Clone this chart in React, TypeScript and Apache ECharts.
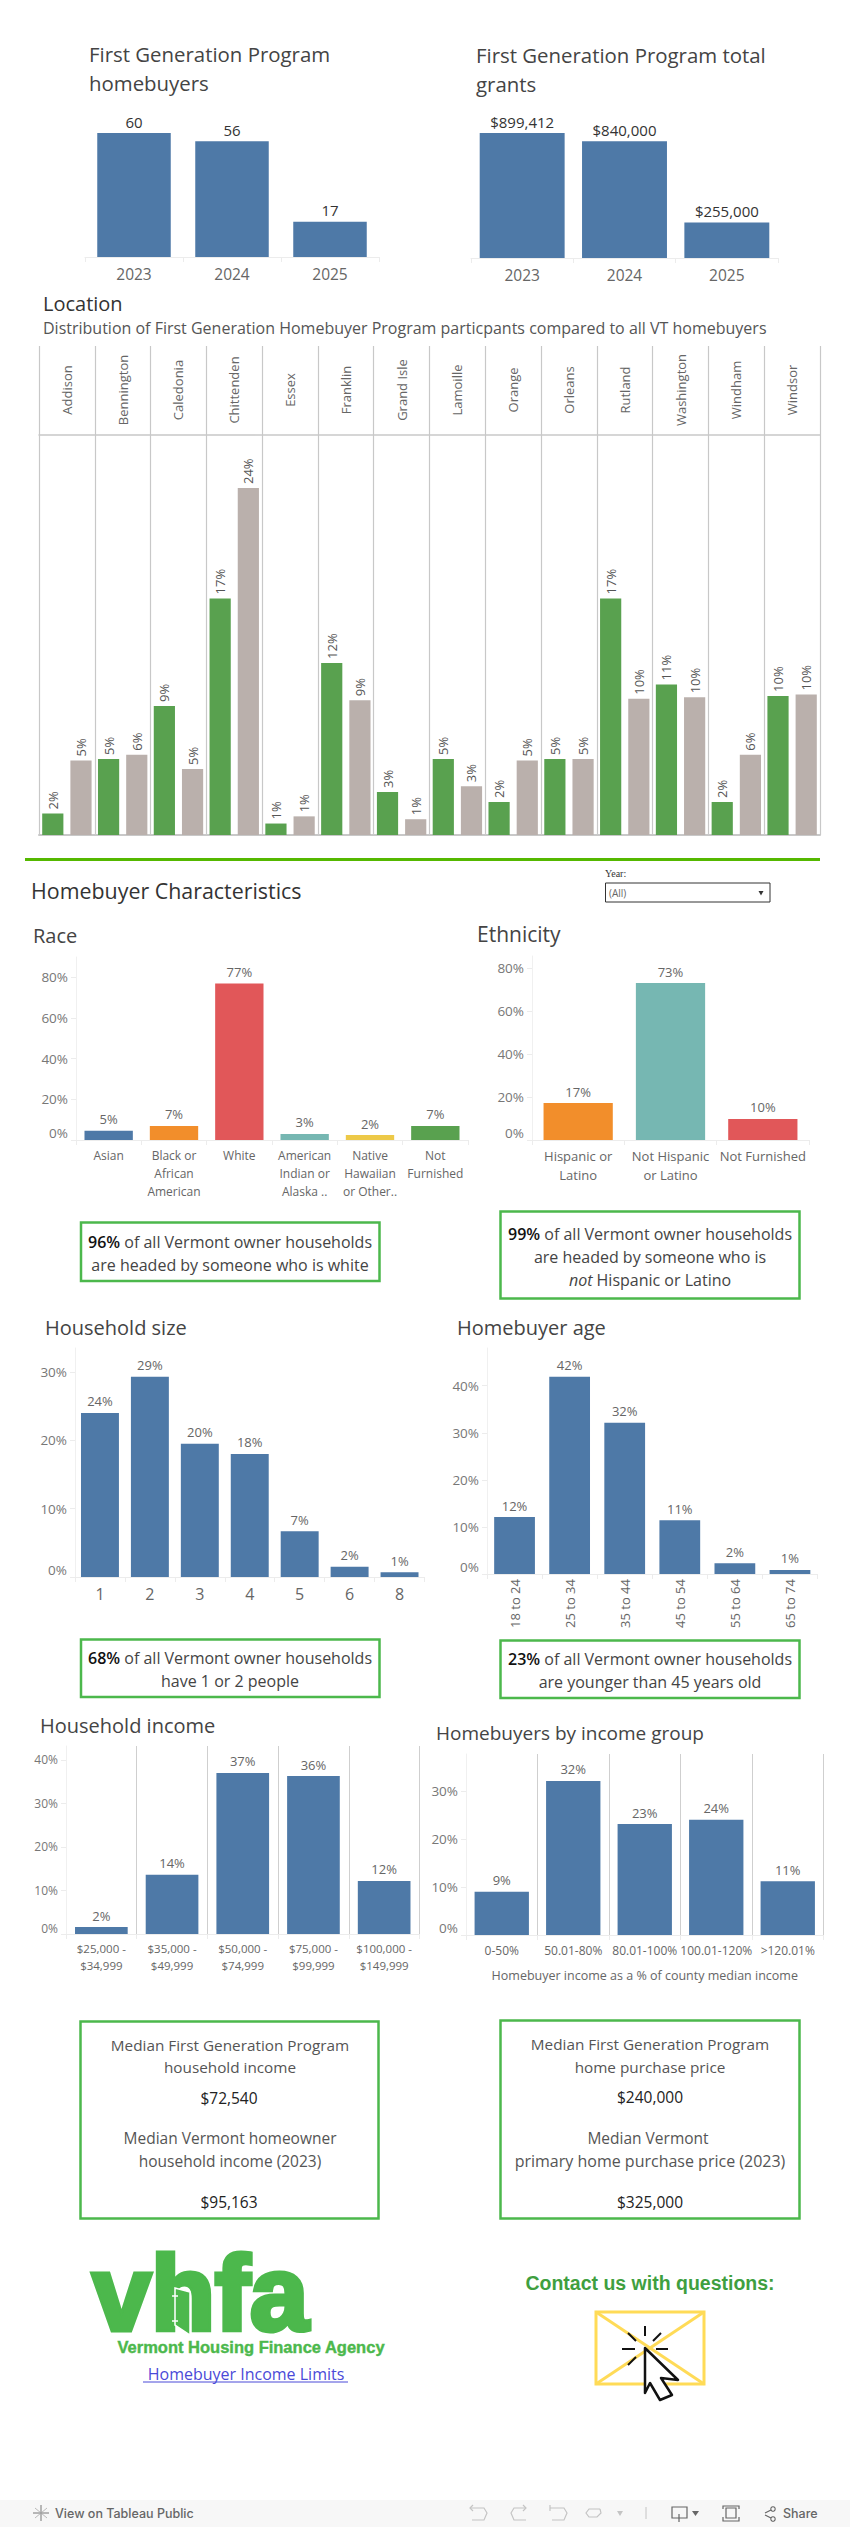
import React, { useEffect, useRef } from "react";
import * as echarts from "echarts";

const years = ["2023", "2024", "2025"];
const homebuyers = [60, 56, 17];
const grants = [899412, 840000, 255000];

const counties = ["Addison", "Bennington", "Caledonia", "Chittenden", "Essex", "Franklin", "Grand Isle", "Lamoille", "Orange", "Orleans", "Rutland", "Washington", "Windham", "Windsor"];
const programShare = [1.5, 5.3, 9.0, 16.5, 0.8, 12.0, 3.0, 5.3, 2.3, 5.3, 16.5, 10.5, 2.3, 9.7];
const allVtShare = [5.2, 5.6, 4.6, 24.2, 1.3, 9.4, 1.1, 3.4, 5.2, 5.3, 9.5, 9.6, 5.6, 9.8];

const raceCats = ["Asian", "Black or\nAfrican\nAmerican", "White", "American\nIndian or\nAlaska ..", "Native\nHawaiian\nor Other..", "Not\nFurnished"];
const raceVals = [4.5, 6.9, 77, 3, 2.4, 6.9];
const raceColors = ["#4e79a7", "#f28e2b", "#e15759", "#76b7b2", "#edc948", "#59a14f"];

const ethCats = ["Hispanic or\nLatino", "Not Hispanic\nor Latino", "Not Furnished"];
const ethVals = [17.2, 73, 9.8];
const ethColors = ["#f28e2b", "#76b7b2", "#e15759"];

const sizeCats = ["1", "2", "3", "4", "5", "6", "8"];
const sizeVals = [24, 29.3, 19.5, 18, 6.7, 1.5, 0.7];

const ageCats = ["18 to 24", "25 to 34", "35 to 44", "45 to 54", "55 to 64", "65 to 74"];
const ageVals = [12.1, 41.9, 32.1, 11.4, 2.3, 0.85];

const incomeCats = ["$25,000 -\n$34,999", "$35,000 -\n$49,999", "$50,000 -\n$74,999", "$75,000 -\n$99,999", "$100,000 -\n$149,999"];
const incomeVals = [1.6, 13.6, 37, 36.3, 12.2];

const groupCats = ["0-50%", "50.01-80%", "80.01-100%", "100.01-120%", ">120.01%"];
const groupVals = [9, 32.1, 23.1, 24, 11.2];

const FONT = "'Open Sans', sans-serif";
const BLUE = "#4e79a7";
const BOX = "#4cb84c";
const pct = (p: any) => Math.round(p.value) + "%";

function txt(x: number, y: number, text: string, size: number, fill: string, extra: any = {}) {
  const { align = "left", weight = 400, family = FONT, ...rest } = extra;
  return {
    type: "text", x, y, silent: true,
    style: { text, fill, fontSize: size, fontFamily: family, fontWeight: weight, align, verticalAlign: "middle", ...rest },
  };
}
const rect = (x: number, y: number, w: number, h: number, style: any) => ({ type: "rect", silent: true, shape: { x, y, width: w, height: h }, style });
const line = (x1: number, y1: number, x2: number, y2: number, stroke: string, lineWidth = 1.5) => ({ type: "line", silent: true, shape: { x1, y1, x2, y2 }, style: { stroke, lineWidth } });
const poly = (points: number[][], style: any) => ({ type: "polygon", silent: true, shape: { points }, style });
const pline = (points: number[][], stroke: string, lineWidth = 1.2) => ({ type: "polyline", silent: true, shape: { points }, style: { stroke, lineWidth, fill: "none" } });
const box = (x: number, y: number, w: number, h: number) => rect(x, y, w, h, { fill: "none", stroke: BOX, lineWidth: 2.5 });
const bold = {
  b: { fontWeight: 600, fill: "#111", fontSize: 16, fontFamily: FONT },
  i: { fontStyle: "italic", fontSize: 16, fontFamily: FONT, fill: "#444" },
};

const grids: any[] = [];
const xAxes: any[] = [];
const yAxes: any[] = [];
const series: any[] = [];

function panel(o: any) {
  const g = grids.length;
  grids.push({ left: o.left, top: o.top, width: o.right - o.left, height: o.bottom - o.top, show: false });
  xAxes.push({
    gridIndex: g, type: "category", data: o.cats,
    axisLine: { show: true, lineStyle: { color: "#ececec" } },
    axisTick: { show: true, interval: 0, length: 5, lineStyle: { color: "#ececec" } },
    axisLabel: { interval: 0, fontFamily: FONT, color: "#666", fontSize: o.catSize ?? 12, lineHeight: o.catLine ?? 18, margin: o.catMargin ?? 6, rotate: o.catRotate ?? 0 },
    splitLine: o.dividers ? { show: true, interval: 0, showMinLine: false, lineStyle: { color: "#cfcfcf" } } : { show: false },
    name: o.axisName, nameLocation: "middle", nameGap: o.nameGap,
    nameTextStyle: { fontFamily: FONT, color: "#666", fontSize: 12.5 },
  });
  yAxes.push({
    gridIndex: g, type: "value", min: 0, max: o.max, interval: o.interval,
    show: o.showY !== false,
    axisLine: { show: true, lineStyle: { color: "#f0f0f0" } },
    axisTick: { show: true, length: 5, lineStyle: { color: "#ececec" } },
    splitLine: { show: false },
    axisLabel: {
      fontFamily: FONT, color: "#777", fontSize: o.ySize ?? 13.5, margin: 8, showMaxLabel: false,
      verticalAlignMinLabel: "bottom", formatter: (v: number) => v + "%",
    },
  });
  series.push({
    type: "bar", xAxisIndex: g, yAxisIndex: g, barWidth: o.barWidth, silent: true,
    data: o.vals.map((v: number, i: number) => ({ value: v, itemStyle: { color: o.colors ? o.colors[i] : BLUE } })),
    label: {
      show: true, position: "top", distance: o.labelDist ?? 5, fontFamily: FONT, fontSize: o.labelSize ?? 13,
      color: o.labelColor ?? "#666", formatter: o.fmt ?? pct,
    },
  });
}

// First Generation Program totals
panel({ left: 85, right: 379, top: 133, bottom: 257, cats: years, vals: homebuyers, max: 60, showY: false, barWidth: "75%", catSize: 15.5, catMargin: 8, labelSize: 15, labelColor: "#333", labelDist: 4, fmt: (p: any) => String(p.value) });
panel({ left: 471, right: 778, top: 133, bottom: 258, cats: years, vals: grants, max: 899412, showY: false, barWidth: "83%", catSize: 15.5, catMargin: 8, labelSize: 15, labelColor: "#333", labelDist: 4, fmt: (p: any) => "$" + p.value.toLocaleString("en-US") });

// Location: header strip with county names
{
  const g = grids.length;
  grids.push({ left: 39, width: 781, top: 346, height: 89, show: false });
  xAxes.push({
    gridIndex: g, type: "category", data: counties,
    axisLine: { show: true, lineStyle: { color: "#c8c8c8", width: 1.5 } }, axisTick: { show: false },
    axisLabel: { interval: 0, inside: true, rotate: 90, align: "center", verticalAlign: "middle", margin: 45, fontFamily: FONT, fontSize: 13, color: "#666" },
    splitLine: { show: true, interval: 0, lineStyle: { color: "#c8c8c8", width: 1.2 } },
  });
  yAxes.push({ gridIndex: g, type: "value", min: 0, max: 1, show: false });

  // Location: paired bars
  const p = grids.length;
  grids.push({ left: 39, width: 781, top: 435, height: 400, show: false });
  xAxes.push({
    gridIndex: p, type: "category", data: counties,
    axisLine: { show: true, lineStyle: { color: "#c8c8c8", width: 2 } }, axisTick: { show: false }, axisLabel: { show: false },
    splitLine: { show: true, interval: 0, lineStyle: { color: "#c8c8c8", width: 1.2 } },
  });
  yAxes.push({ gridIndex: p, type: "value", min: 0, max: 27.9, show: false });
  const locLabel = {
    show: true, position: "top", distance: 4, rotate: 90, align: "left", verticalAlign: "middle",
    fontFamily: FONT, fontSize: 13, color: "#555", formatter: pct,
  };
  series.push({ type: "bar", name: "First Generation", xAxisIndex: p, yAxisIndex: p, data: programShare, barWidth: "38%", barGap: "33%", silent: true, itemStyle: { color: "#59a14f" }, label: locLabel });
  series.push({ type: "bar", name: "All VT", xAxisIndex: p, yAxisIndex: p, data: allVtShare, barWidth: "38%", barGap: "33%", silent: true, itemStyle: { color: "#bab0ac" }, label: locLabel });
}

// Characteristics
panel({ left: 76, right: 468, top: 957, bottom: 1140, cats: raceCats, vals: raceVals, colors: raceColors, max: 90, interval: 20, barWidth: "74%", catSize: 12 });
panel({ left: 532, right: 809, top: 956, bottom: 1140, cats: ethCats, vals: ethVals, colors: ethColors, max: 85.6, interval: 20, barWidth: "75%", catSize: 13, catLine: 19 });
panel({ left: 75, right: 424.5, top: 1348, bottom: 1577, cats: sizeCats, vals: sizeVals, max: 33.5, interval: 10, barWidth: "76%", catSize: 16, catMargin: 8 });
panel({ left: 487, right: 817.5, top: 1348, bottom: 1574, cats: ageCats, vals: ageVals, max: 48, interval: 10, barWidth: "74%", catSize: 13, catRotate: 90, catMargin: 5 });
panel({ left: 66, right: 419.5, top: 1746, bottom: 1934, cats: incomeCats, vals: incomeVals, max: 43.2, interval: 10, barWidth: "74.5%", dividers: true, catSize: 11.5, catLine: 17, ySize: 12, catMargin: 6 });
panel({ left: 466, right: 823.5, top: 1754, bottom: 1935, cats: groupCats, vals: groupVals, max: 37.7, interval: 10, barWidth: "76%", dividers: true, catSize: 12, axisName: "Homebuyer income as a % of county median income", nameGap: 34 });

const TITLE = "#444";
const BODY = "#444";
const LOGO = "#4cb84c";
const graphics: any[] = [
  txt(89, 54, "First Generation Program", 20.4, TITLE),
  txt(89, 83, "homebuyers", 20.4, TITLE),
  txt(476, 55, "First Generation Program total", 20.4, TITLE),
  txt(476, 84, "grants", 20.4, TITLE),
  txt(43, 303, "Location", 20, "#333", { weight: 500 }),
  txt(43, 328, "Distribution of First Generation Homebuyer Program particpants compared to all VT homebuyers", 16, "#555"),
  rect(25, 858, 795, 3, { fill: "#55b800" }),
  txt(605, 873, "Year:", 10, "#333", { family: "'Liberation Serif', serif" }),
  rect(605.5, 883, 164.5, 19, { fill: "#fff", stroke: "#333", lineWidth: 1 }),
  txt(609, 893, "(All)", 10, "#666"),
  poly([[758.5, 891], [763.5, 891], [761, 895.5]], { fill: "#333" }),
  txt(31, 890, "Homebuyer Characteristics", 21.4, "#333"),
  txt(33, 935, "Race", 20, TITLE),
  txt(477, 934, "Ethnicity", 21, TITLE),
  box(81, 1222.5, 298.5, 58.5),
  txt(230, 1242, "{b|96%} of all Vermont owner households", 16, BODY, { align: "center", rich: bold }),
  txt(230, 1265, "are headed by someone who is white", 16, BODY, { align: "center" }),
  box(500.5, 1211.5, 299, 87),
  txt(650, 1234, "{b|99%} of all Vermont owner households", 16, BODY, { align: "center", rich: bold }),
  txt(650, 1257, "are headed by someone who is", 16, BODY, { align: "center" }),
  txt(650, 1280, "{i|not} Hispanic or Latino", 16, BODY, { align: "center", rich: bold }),
  txt(45, 1327, "Household size", 20, TITLE),
  txt(457, 1327, "Homebuyer age", 20, TITLE),
  box(81, 1639.5, 298.5, 57.5),
  txt(230, 1658, "{b|68%} of all Vermont owner households", 16, BODY, { align: "center", rich: bold }),
  txt(230, 1681, "have 1 or 2 people", 16, BODY, { align: "center" }),
  box(500.5, 1640.5, 299, 57.5),
  txt(650, 1659, "{b|23%} of all Vermont owner households", 16, BODY, { align: "center", rich: bold }),
  txt(650, 1682, "are younger than 45 years old", 16, BODY, { align: "center" }),
  txt(40, 1725, "Household income", 20, TITLE),
  txt(436, 1733, "Homebuyers by income group", 19, TITLE),
  box(80.5, 2021.5, 298, 197),
  txt(230, 2045, "Median First Generation Program", 15.3, "#555", { align: "center" }),
  txt(230, 2067, "household income", 15.3, "#555", { align: "center" }),
  txt(229, 2098, "$72,540", 15.5, "#222", { align: "center" }),
  txt(230, 2138, "Median Vermont homeowner", 15.5, "#555", { align: "center" }),
  txt(230, 2161, "household income (2023)", 15.5, "#555", { align: "center" }),
  txt(229, 2202, "$95,163", 15.5, "#222", { align: "center" }),
  box(500.5, 2020.5, 299, 198),
  txt(650, 2044, "Median First Generation Program", 15.3, "#555", { align: "center" }),
  txt(650, 2067, "home purchase price", 15.3, "#555", { align: "center" }),
  txt(650, 2097, "$240,000", 15.5, "#222", { align: "center" }),
  txt(648, 2138, "Median Vermont", 15.5, "#555", { align: "center" }),
  txt(650, 2161, "primary home purchase price (2023)", 16, "#555", { align: "center" }),
  txt(650, 2202, "$325,000", 15.5, "#222", { align: "center" }),
  // logo
  txt(200.5, 2293, "vhfa", 105, LOGO, { align: "center", weight: 700, family: "'Liberation Sans', sans-serif", stroke: LOGO, lineWidth: 5 }),
  poly([[175, 2288], [190, 2292], [190, 2335], [175, 2325]], { fill: LOGO, stroke: "#fff", lineWidth: 1.5 }),
  line(172, 2296, 178, 2296, "#fff", 1.5),
  line(172, 2321, 178, 2321, "#fff", 1.5),
  { type: "circle", silent: true, shape: { cx: 185, cy: 2311, r: 1.5 }, style: { fill: "#fff" } },
  txt(251, 2347, "Vermont Housing Finance Agency", 16.5, LOGO, { align: "center", weight: 700, family: "'Liberation Sans', sans-serif", stroke: LOGO, lineWidth: 0.4 }),
  txt(246, 2374, "Homebuyer Income Limits", 16, "#4a4ad8", { align: "center" }),
  line(143, 2382, 348, 2382, "#4a4ad8", 1),
  txt(650, 2283, "Contact us with questions:", 19.5, "#3f9f3f", { align: "center", weight: 700, family: "'Liberation Sans', sans-serif" }),
  // envelope with pointer
  rect(596, 2312, 108, 72, { fill: "#fff", stroke: "#ffdb57", lineWidth: 3 }),
  line(596, 2312, 704, 2384, "#ffdb57", 3),
  line(704, 2312, 596, 2384, "#ffdb57", 3),
  line(645, 2326, 645, 2336, "#111", 2),
  line(653, 2341, 661, 2333, "#111", 2),
  line(636, 2341, 628, 2333, "#111", 2),
  line(622, 2349, 635, 2349, "#111", 2),
  line(656, 2349, 668, 2349, "#111", 2),
  line(636, 2357, 628, 2365, "#111", 2),
  poly([[645, 2348], [678, 2380], [661, 2378], [672, 2395], [660, 2400], [650, 2383], [645, 2393]], { fill: "#fff", stroke: "#111", lineWidth: 2.5, lineJoin: "round" }),
  // footer
  rect(0, 2500, 850, 27, { fill: "#f7f7f7" }),
  line(41, 2505, 41, 2521, "#777", 1), line(33, 2513, 49, 2513, "#777", 1),
  line(35, 2508, 47, 2518, "#aaa", 0.8), line(47, 2508, 35, 2518, "#aaa", 0.8),
  txt(55, 2513, "View on Tableau Public", 12.5, "#666", { weight: 500, family: "Inter, sans-serif" }),
  pline([[470, 2508], [484, 2508], [487, 2513], [484, 2520], [472, 2520]], "#c4c4c4"),
  pline([[473, 2505], [470, 2508], [473, 2511]], "#c4c4c4"),
  pline([[526, 2508], [514, 2508], [511, 2513], [514, 2520], [526, 2520]], "#c4c4c4"),
  pline([[523, 2505], [526, 2508], [523, 2511]], "#c4c4c4"),
  pline([[550, 2508], [564, 2508], [567, 2513], [564, 2520], [552, 2520]], "#c4c4c4"),
  line(550, 2505, 550, 2511, "#c4c4c4", 1.2),
  pline([[600, 2509], [589, 2509], [586, 2513], [589, 2517], [597, 2517], [601, 2513], [600, 2509]], "#c4c4c4"),
  poly([[617, 2511], [623, 2511], [620, 2516]], { fill: "#c4c4c4" }),
  line(646, 2507, 646, 2519, "#c4c4c4", 1),
  rect(672, 2507, 15, 11, { fill: "none", stroke: "#666", lineWidth: 1.2 }),
  line(679, 2514, 679, 2522, "#666", 1.2),
  poly([[692, 2511], [699, 2511], [695.5, 2516]], { fill: "#666" }),
  rect(726, 2508, 10, 10, { fill: "none", stroke: "#666", lineWidth: 1.2 }),
  pline([[723, 2509], [723, 2506], [739, 2506], [739, 2509]], "#666"),
  pline([[723, 2517], [723, 2521], [739, 2521], [739, 2517]], "#666"),
  { type: "circle", silent: true, shape: { cx: 763, cy: 2514, r: 2.2 }, style: { fill: "none", stroke: "#666", lineWidth: 1.1 } },
  { type: "circle", silent: true, shape: { cx: 773, cy: 2509, r: 2.2 }, style: { fill: "none", stroke: "#666", lineWidth: 1.1 } },
  { type: "circle", silent: true, shape: { cx: 773, cy: 2519, r: 2.2 }, style: { fill: "none", stroke: "#666", lineWidth: 1.1 } },
  line(765, 2513, 771, 2510, "#666", 1.1), line(765, 2515, 771, 2518, "#666", 1.1),
  txt(783, 2513, "Share", 12.5, "#666", { weight: 500, family: "Inter, sans-serif" }),
];

const option = {
  animation: false,
  backgroundColor: "#ffffff",
  grid: grids,
  xAxis: xAxes,
  yAxis: yAxes,
  series,
  graphic: { elements: graphics },
};

export default function App() {
  const ref = useRef<HTMLDivElement>(null);
  useEffect(() => {
    const chart = echarts.init(ref.current as HTMLDivElement, undefined, { renderer: "svg" });
    chart.setOption(option as any);
    return () => chart.dispose();
  }, []);
  return <div ref={ref} style={{ position: "absolute", left: 0, top: 0, width: 850, height: 2527 }} />;
}
